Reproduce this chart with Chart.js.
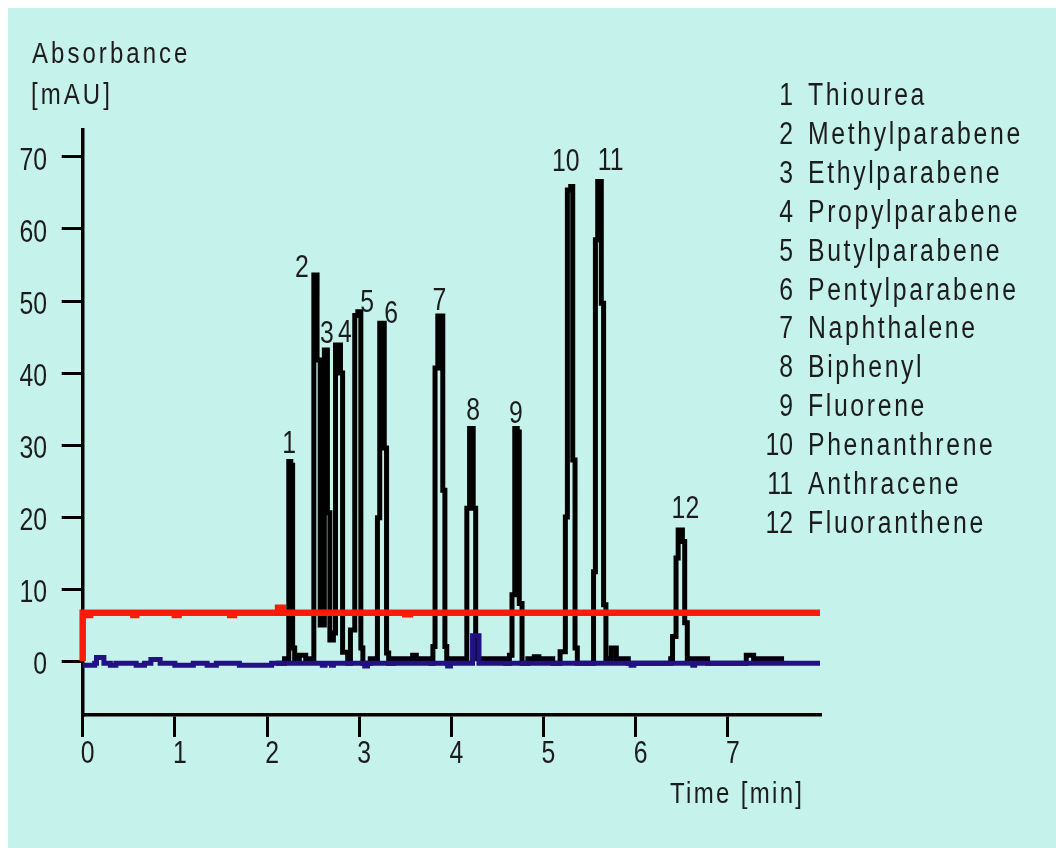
<!DOCTYPE html>
<html>
<head>
<meta charset="utf-8">
<script src="https://cdn.jsdelivr.net/npm/chart.js@4.4.1/dist/chart.umd.min.js"></script>
<style>
  html, body { margin: 0; padding: 0; background: #ffffff; }
  canvas { display: block; }
</style>
</head>
<body>
<canvas id="chromChart" width="1056" height="848"></canvas>
<script>
// compounds in elution order
const compounds = [
  "Thiourea", "Methylparabene", "Ethylparabene", "Propylparabene",
  "Butylparabene", "Pentylparabene", "Naphthalene", "Biphenyl",
  "Fluorene", "Phenanthrene", "Anthracene", "Fluoranthene"
];
// apex of each peak: time [min], height [mAU]
const peakTimes = [2.25, 2.53, 2.64, 2.78, 3.00, 3.25, 3.88, 4.22, 4.70, 5.28, 5.61, 6.48];
const peakHeights = [27.7, 53.6, 43.2, 43.9, 48.5, 46.9, 47.9, 32.3, 32.3, 65.9, 66.6, 18.2];

const xTicks = [0, 1, 2, 3, 4, 5, 6, 7];
const yTicks = [0, 10, 20, 30, 40, 50, 60, 70];

// chromatogram (black), step points
const traceTime = [
  2.10, 2.19, 2.236, 2.258, 2.278, 2.30, 2.35, 2.42,
  2.508, 2.543, 2.577, 2.622, 2.655, 2.682, 2.720, 2.743, 2.797, 2.820, 2.875,
  2.905, 2.952, 2.985, 3.018, 3.04, 3.12,
  3.198, 3.223, 3.272, 3.297, 3.32, 3.37, 3.58, 3.62, 3.78,
  3.80, 3.823, 3.853, 3.907, 3.930, 3.95, 3.97,
  4.168, 4.198, 4.237, 4.264, 4.285, 4.59, 4.63,
  4.658, 4.688, 4.715, 4.737, 4.767, 4.83, 4.90, 4.95, 5.10,
  5.18, 5.237, 5.259, 5.295, 5.317, 5.342, 5.367,
  5.543, 5.563, 5.588, 5.627, 5.652, 5.677, 5.735, 5.79, 5.92,
  6.38, 6.40, 6.438, 6.461, 6.507, 6.532, 6.56, 6.78, 7.20, 7.28, 7.61
];
const traceMAU = [
  -0.3, 0.3, 27.7, 27.2, 1.8, 0.3, 0.8, 0.3,
  53.6, 41.8, 5.0, 43.2, 20.6, 2.9, 3.9, 43.9, 40.0, 1.2, -0.3,
  4.3, 48.0, 48.5, 1.8, -0.3, 0.3,
  19.9, 46.9, 29.6, 1.1, -0.3, 0.3, 0.8, 0.3, -0.3,
  2.0, 40.7, 47.9, 23.7, 2.0, -0.3, 0.3,
  21.2, 32.3, 21.2, 3.4, 0.3, -0.3, 0.8,
  9.2, 32.3, 31.8, 8.0, -0.3, 0.3, 0.6, 0.3, -0.3,
  1.3, 20.0, 65.4, 65.9, 27.9, 1.8, -0.3,
  12.4, 58.5, 66.6, 49.7, 7.8, 0.3, 1.8, 0.3, -0.3,
  0.3, 3.4, 14.3, 18.2, 16.6, 5.3, 0.3, -0.3, 0.8, 0.3, 0.3
];

// baseline trace (blue)
const blankTime = [
  0, 0.13, 0.15, 0.23, 0.30, 0.36, 0.58, 0.67, 0.74, 0.84, 1.00, 1.20,
  1.35, 1.45, 1.70, 2.05, 2.60, 2.63, 2.70, 2.72, 3.06, 3.09, 3.96, 3.99,
  4.23, 4.30, 5.95, 5.98, 6.62, 6.64, 8.00
];
const blankMAU = [
  -0.6, -0.3, 0.5, -0.3, -0.6, -0.3, -0.6, -0.3, 0.2, -0.3, -0.6, -0.3,
  -0.6, -0.3, -0.6, -0.3, -0.6, -0.3, -0.6, -0.3, -0.7, -0.3, -0.7, -0.3,
  3.5, -0.3, -0.6, -0.3, -0.6, -0.3, -0.3
];

// offset trace (red)
const offsetTime = [0, 0, 0.05, 0.08, 0.55, 0.58, 1.00, 1.04, 1.60, 1.64, 2.12, 2.17, 3.50, 3.55, 8.00];
const offsetMAU = [0, 6.7, 6.4, 6.7, 6.4, 6.7, 6.4, 6.7, 6.4, 6.7, 7.4, 6.7, 6.5, 6.7, 6.7];

const toPoints = (t, v) => t.map((x, i) => ({ x: x, y: v[i] }));

const fontFamily = "'Liberation Sans', Arial, sans-serif";
const ink = "#1c1c1c";

// condensed look: squeeze the text horizontally
function narrowText(ctx, text, x, y, size, spacing, align) {
  ctx.save();
  ctx.font = size + "px " + fontFamily;
  ctx.letterSpacing = spacing + "px";
  ctx.textAlign = align;
  ctx.textBaseline = "alphabetic";
  ctx.fillStyle = ink;
  ctx.translate(x, y);
  ctx.scale(0.8, 1);
  ctx.fillText(text, 0, 0);
  ctx.restore();
}

const background = {
  id: "background",
  beforeDraw(chart) {
    const ctx = chart.ctx;
    ctx.save();
    ctx.fillStyle = "#c6f2ec";
    ctx.fillRect(8, 8, chart.width - 8, chart.height - 8);
    ctx.restore();
  }
};

// nudges for the peak numbers, px
const labelDx = [-1, -14, 1, 6, 8, 9, -1, 1.5, 0, -3.5, 11, 5.5];
const labelDy = [-9, 2, -7, -3, 0, 0, -6, -8, -5, -16, -11, -12];

const texts = {
  id: "texts",
  afterDraw(chart) {
    const ctx = chart.ctx;
    const xs = chart.scales.x, ys = chart.scales.y;

    // tick labels
    xs.ticks.forEach((tk) => {
      narrowText(ctx, String(tk.value), xs.getPixelForValue(tk.value) + 5, 763, 31, 0, "center");
    });
    ys.ticks.forEach((tk) => {
      narrowText(ctx, String(tk.value), 47, ys.getPixelForValue(tk.value) + 12.5, 31, 0, "right");
    });

    // peak numbers
    peakTimes.forEach((t, i) => {
      narrowText(ctx, String(i + 1), xs.getPixelForValue(t) + labelDx[i],
        ys.getPixelForValue(peakHeights[i]) + labelDy[i], 31, 0, "center");
    });

    // axis titles
    narrowText(ctx, "Absorbance", 32, 63, 30, 3.8, "left");
    narrowText(ctx, "[mAU]", 31, 104, 30, 3.8, "left");
    narrowText(ctx, "Time [min]", 670, 803, 30, 2.9, "left");

    // compound list
    compounds.forEach((name, i) => {
      const y = 105 + i * 38.9;
      narrowText(ctx, String(i + 1), 793, y, 31, 0, "right");
      narrowText(ctx, name, 808, y, 31, 3.3, "left");
    });
  }
};

Chart.defaults.font.family = fontFamily;
Chart.defaults.color = ink;

new Chart(document.getElementById("chromChart"), {
  type: "line",
  data: {
    datasets: [
      {
        label: "offset",
        data: toPoints(offsetTime, offsetMAU),
        borderColor: "#ff1a0a",
        borderWidth: 6.5,
        stepped: true,
        pointRadius: 0,
        clip: false,
      },
      {
        label: "baseline",
        data: toPoints(blankTime, blankMAU),
        borderColor: "#221183",
        borderWidth: 5,
        stepped: true,
        pointRadius: 0,
        clip: false,
      },
      {
        label: "chromatogram",
        data: toPoints(traceTime, traceMAU),
        borderColor: "#000000",
        borderWidth: 5,
        borderJoinStyle: "miter",
        stepped: true,
        pointRadius: 0,
        clip: false,
      },
    ],
  },
  options: {
    responsive: false,
    animation: false,
    events: [],
    layout: { padding: { top: 130, right: 236, bottom: 0, left: 0 } },
    plugins: {
      legend: { display: false },
      tooltip: { enabled: false },
    },
    scales: {
      x: {
        type: "linear",
        min: 0,
        max: 8,
        afterFit: (s) => { s.height = 133; },
        afterBuildTicks: (s) => { s.ticks = xTicks.map((v) => ({ value: v })); },
        grid: { drawOnChartArea: false, drawTicks: true, tickLength: 22, color: "#000", lineWidth: 3 },
        border: { display: true, color: "#000", width: 3.5 },
        ticks: { display: false, autoSkip: false },
      },
      y: {
        min: -7.5,
        max: 73.75,
        afterFit: (s) => { s.width = 82.7; },
        afterBuildTicks: (s) => { s.ticks = yTicks.map((v) => ({ value: v })); },
        grid: { drawOnChartArea: false, drawTicks: true, tickLength: 21, color: "#000", lineWidth: 3 },
        border: { display: true, color: "#000", width: 3.5 },
        ticks: { display: false, autoSkip: false },
      },
    },
  },
  plugins: [background, texts],
});
</script>
</body>
</html>
